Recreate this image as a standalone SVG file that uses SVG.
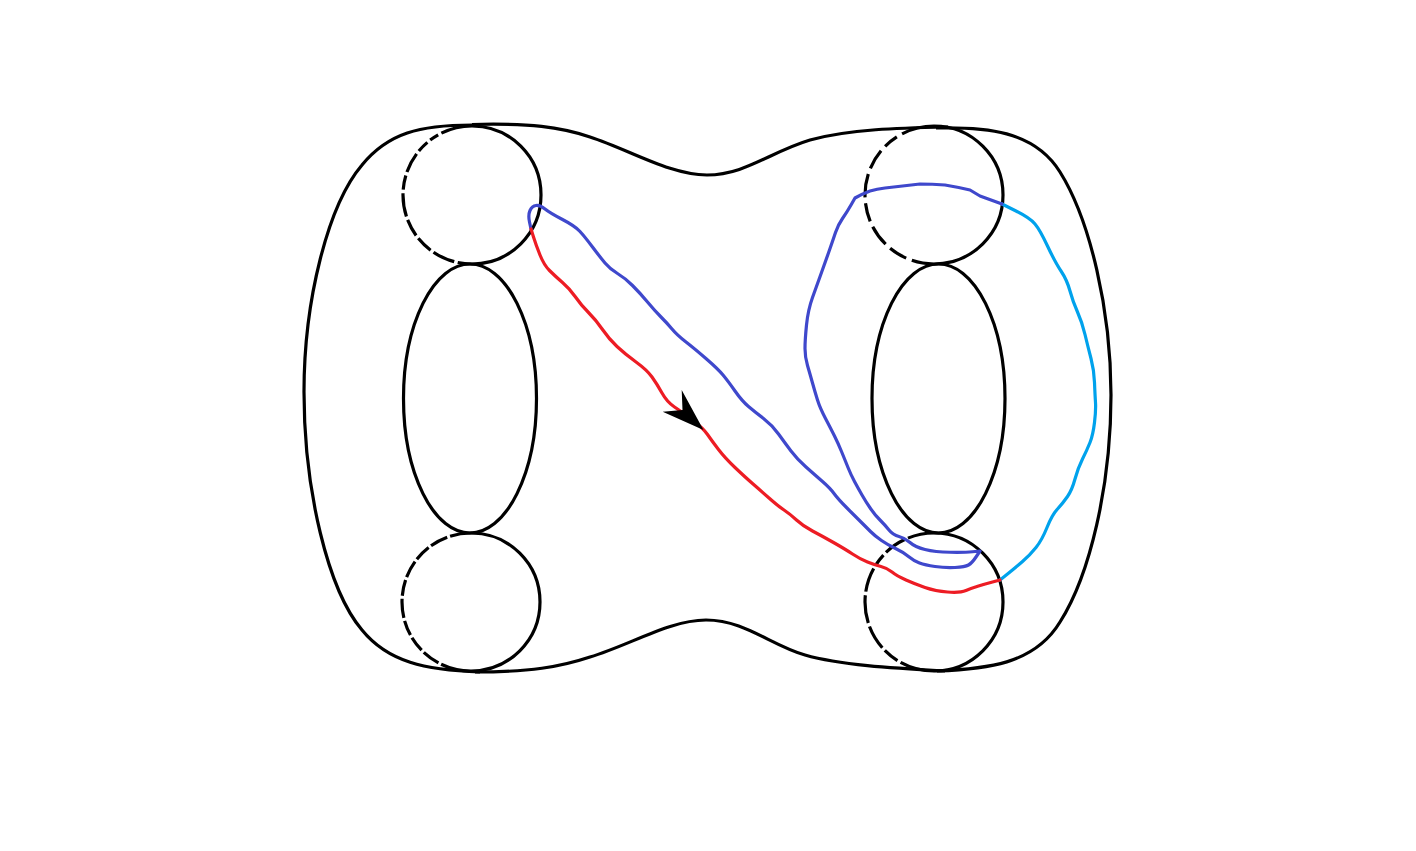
<svg xmlns="http://www.w3.org/2000/svg" width="1416" height="851" viewBox="0 0 1416 851">
<style>
.k{fill:none;stroke:#000;stroke-width:3.200;stroke-linecap:butt}
.c{fill:none;stroke-width:3.200;stroke-linejoin:round;stroke-linecap:round}
</style>
<rect width="1416" height="851" fill="#fff"/>
<g id="surface">
<path class="k" d="M472 124.500C530 123 560 127 590 137C630 150 670 175 707 175C745 175 770 152 810 140C850 129 900 128 948 127"/>
<path class="k" d="M936 128C985 127 1034 130 1060 172C1090 220 1111 310 1111 395C1111 485 1090 575 1060 622C1034 665 985 669 937 671"/>
<path class="k" d="M945 671C890 668 840 665 805 655C770 645 745 620 706 620C670 620 630 645 590 657C560 667 530 672 475 672"/>
<path class="k" d="M480 672C425 670 388 662 362 630C328 590 304 490 304 392C304 300 328 205 362 165C388 133 420 125 472 125"/>
</g>
<g id="holes">
<ellipse class="k" cx="470" cy="398.500" rx="66.500" ry="134.500"/>
<ellipse class="k" cx="938.500" cy="398.500" rx="66.500" ry="134.500"/>
</g>
<g id="boundaries">
<path class="k" pathLength="360" stroke-dasharray="26.400 3 7.900 3 10.100 3 17.100 3 12 3 19.700 3 14.700 3 14.200 3 18.900 3 220" d="M472 126A69 69 0 0 0 472 264A69 69 0 0 0 472 126"/>
<path class="k" pathLength="360" stroke-dasharray="27.600 5 12.500 5 17.100 5 19.800 5 15.400 5 18.100 5 15.700 5 220" d="M934 126A69 69 0 0 0 934 264A69 69 0 0 0 934 126"/>
<path class="k" pathLength="360" stroke-dasharray="22.200 3 18.900 3 10.800 3 20.400 3 23.500 3 20.700 3 13.500 3 220" d="M934 533A69 69 0 0 0 934 671A69 69 0 0 0 934 533"/>
<path class="k" pathLength="360" stroke-dasharray="17.700 2.500 15.200 2.500 13.800 2.500 14.700 2.500 13.300 2.500 16.200 2.500 12.800 2.500 13.100 2.500 15 2.500 220" d="M471 533A69 69 0 0 0 471 671A69 69 0 0 0 471 533"/>
</g>
<g id="connectors">
<path id="cyan" class="c" stroke="#00a2ec" d="M1002 204L1016 211Q1030 218 1035 224Q1040 230 1047.500 246Q1055 262 1061 271Q1067 280 1070 291Q1073 302 1077.500 312Q1082 322 1085 334.500Q1088 347 1091 358.500Q1094 370 1094.500 382.500Q1095 395 1095.500 402.500Q1096 410 1094.500 422.500Q1093 435 1090 442.500Q1087 450 1082.500 459Q1078 468 1075 479Q1072 490 1067.500 496.500Q1063 503 1057.500 509Q1052 515 1047 527.500Q1042 540 1036 547.500Q1030 555 1022.500 561.500Q1015 568 1007.500 574L1000 580"/>
<path id="blue" class="c" stroke="#3f48cc" d="M531 229L529.500 222Q528 215 530 210.500Q532 206 536 205.500Q540 205 545 209Q550 213 562.500 219.500Q575 226 580 231.500Q585 237 592.500 247Q600 257 605 263Q610 269 617.500 273.500Q625 278 632.500 285.500Q640 293 647.500 302Q655 311 661 317Q667 323 672 329Q677 335 686 342Q695 349 706.500 359Q718 369 723 375Q728 381 735 391Q742 401 748.500 406.500Q755 412 763.500 418.500Q772 425 778.500 434Q785 443 791 451Q797 459 806 467Q815 475 822.500 481.500Q830 488 834 493.500Q838 499 846.500 507.500Q855 516 860.500 521.500Q866 527 870.500 531.500Q875 536 881.500 540.500Q888 545 895.500 548.500Q903 552 908.500 556.500Q914 561 919.500 563Q925 565 935 566.500Q945 568 955 567.500Q965 567 968.500 565Q972 563 976 557L980 551L972.500 551.750Q965 552.500 950 552.250Q935 552 925 549.500Q915 547 910 542.500Q905 538 899 536.500Q893 535 889 530Q885 525 880 520Q875 515 870.500 508.500Q866 502 862 495Q858 488 854.500 481.500Q851 475 848 467.500Q845 460 841.500 451.500Q838 443 834.500 436Q831 429 825.500 418.500Q820 408 817.500 400Q815 392 812.500 383Q810 374 807.500 365.500Q805 357 805 348.500Q805 340 806.500 325Q808 310 812.500 297.500Q817 285 821.500 272.500Q826 260 829.500 250Q833 240 835.500 232.500Q838 225 842.500 218.500Q847 212 851 205L855 198Q862 194 870 191Q877 189 885 188Q902 186 920 184Q932 184 945 185Q957 187 970 190Q975 193 980 196Q991 200 1002 204"/>
<path id="red" class="c" stroke="#ed1c24" d="M531 229L533.500 237Q536 245 540 255Q544 265 549.500 270.500Q555 276 562.500 282.500Q570 289 575.500 297Q581 305 588.500 312.500Q596 320 602.500 329.500Q609 339 617 346.500Q625 354 636 362Q647 370 652 377Q657 384 662 393Q667 402 674.500 407Q682 412 692.500 420Q703 428 707.500 434.500Q712 441 718.500 449.500Q725 458 735 467.500Q745 477 752.500 483.500Q760 490 769 498Q778 506 784 510Q790 514 796.500 520Q803 526 812.500 531Q822 536 833.500 542.500Q845 549 852.500 554Q860 559 867.500 562Q875 565 881 566.500Q887 568 892 572Q897 576 906 580Q915 584 925 587.500Q935 591 947.500 592Q960 593 966 590.500Q972 588 978.500 586Q985 584 992.500 582L1000 580"/>
<path id="arrowhead" d="M703.500 430L681.700 390L682.500 410L662.700 411.700Z" fill="#000"/>
</g>
</svg>
